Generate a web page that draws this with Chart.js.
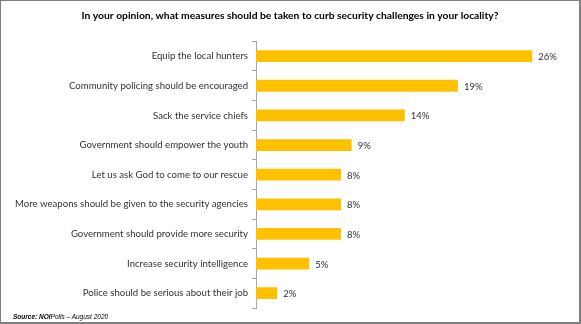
<!DOCTYPE html>
<html>
<head>
<meta charset="utf-8">
<script src="https://cdn.jsdelivr.net/npm/chart.js@4"></script>
<style>
  html, body { margin: 0; padding: 0; background: #fff; }
  #wrap {
    position: relative; width: 581px; height: 324px; box-sizing: border-box;
    border-top: 1px solid #808080; border-left: 1px solid #808080;
    border-right: 2px solid #808080; border-bottom: 2px solid #808080;
  }
  #source {
    position: absolute; left: 12px; top: 312px;
    font: italic 6.5px "Liberation Sans", sans-serif; color: #000;
  }
</style>
</head>
<body>
<div id="wrap">
  <canvas id="chart" width="578" height="321"></canvas>
  <div id="source"><b>Source: NOI</b>Polls – August 2020</div>
</div>
<script>
const categories = [
  'Equip the local hunters',
  'Community policing should be encouraged',
  'Sack the service chiefs',
  'Government should empower the youth',
  'Let us ask God to come to our rescue',
  'More weapons should be given to the security agencies',
  'Government should provide more security',
  'Increase security intelligence',
  'Police should be serious about their job'
];
const percents = [26, 19, 14, 9, 8, 8, 8, 5, 2];

// draw the % after each bar
const valueLabels = {
  id: 'valueLabels',
  afterDatasetsDraw(chart) {
    const ctx = chart.ctx;
    ctx.save();
    ctx.font = '9.5px Lato';
    ctx.fillStyle = '#333';
    ctx.textBaseline = 'middle';
    chart.getDatasetMeta(0).data.forEach((bar, i) => {
      ctx.fillText(percents[i] + '%', bar.x + 6, bar.y + 1);
    });
    ctx.restore();
  }
};

new Chart(document.getElementById('chart'), {
  type: 'bar',
  data: {
    labels: categories,
    datasets: [{
      data: percents,
      backgroundColor: '#FFC000',
      barPercentage: 0.4,
      categoryPercentage: 1
    }]
  },
  options: {
    indexAxis: 'y',
    responsive: false,
    animation: false,
    layout: { padding: { top: 0, right: 0, bottom: 14, left: 0 } },
    plugins: {
      legend: { display: false },
      tooltip: { enabled: false },
      title: {
        display: true,
        text: 'In your opinion, what measures should be taken to curb security challenges in your locality?',
        font: { family: 'Lato', size: 10.3, weight: 'bold' },
        color: '#000',
        padding: { top: 8, bottom: 20 }
      }
    },
    scales: {
      x: { display: false, min: 0, max: 30.4 },
      y: {
        afterFit(scale) { scale.width = 255; },
        ticks: { color: '#333', font: { family: 'Lato', size: 9.6 }, padding: 4 },
        grid: { drawOnChartArea: false, drawTicks: true, tickLength: 4, color: '#a6a6a6' },
        border: { color: '#a6a6a6' }
      }
    }
  },
  plugins: [valueLabels]
});
</script>
</body>
</html>
